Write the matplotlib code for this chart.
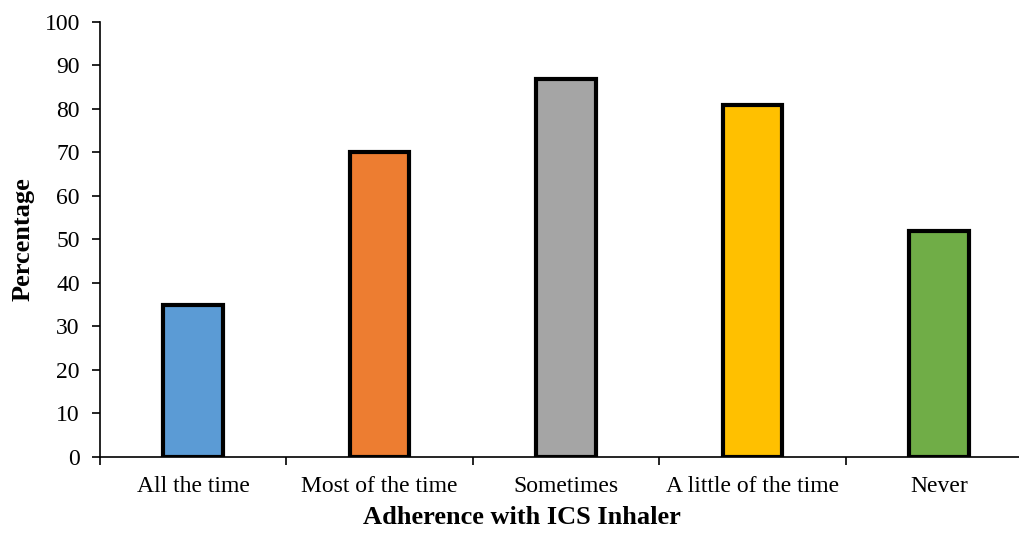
import matplotlib.pyplot as plt
import numpy as np

categories = ["All the time", "Most of the time", "Sometimes", "A little of the time", "Never"]
values = [35, 70, 87, 81, 52]
colors = ["#5B9BD5", "#ED7D31", "#A5A5A5", "#FFC000", "#70AD47"]

plt.rcParams["font.family"] = ["Liberation Serif", "DejaVu Serif"]

fig = plt.figure(figsize=(10.19, 5.36), dpi=100)
ax = fig.add_axes([0.0981, 0.1474, 0.9146, 0.8116])

x = np.arange(len(categories))
ax.bar(x, values, width=0.32, color=colors, edgecolor="black", linewidth=3, zorder=3)

ax.set_xlim(-0.5, len(categories) - 0.5)
ax.set_ylim(0, 100)
ax.set_yticks(np.arange(0, 101, 10))
ax.tick_params(axis="y", labelsize=17, direction="out", length=5.5, width=1.2, pad=9)

# category labels in the middle, tick marks on the boundaries
ax.set_xticks(x)
ax.set_xticklabels(categories, fontsize=17)
ax.tick_params(axis="x", which="major", length=0, pad=14)
ax.set_xticks(np.arange(-0.5, len(categories), 1), minor=True)
ax.tick_params(axis="x", which="minor", direction="out", length=6, width=1.2)

for side in ["top", "right"]:
    ax.spines[side].set_visible(False)
ax.spines["left"].set_linewidth(1.2)
ax.spines["bottom"].set_linewidth(1.2)

ax.set_xlabel("Adherence with ICS Inhaler", fontsize=19, fontweight="bold", labelpad=6)
ax.xaxis.label.set_x(0.453)
ax.set_ylabel("Percentage", fontsize=19, fontweight="bold", labelpad=7)

fig.savefig("out.png", dpi=100)
